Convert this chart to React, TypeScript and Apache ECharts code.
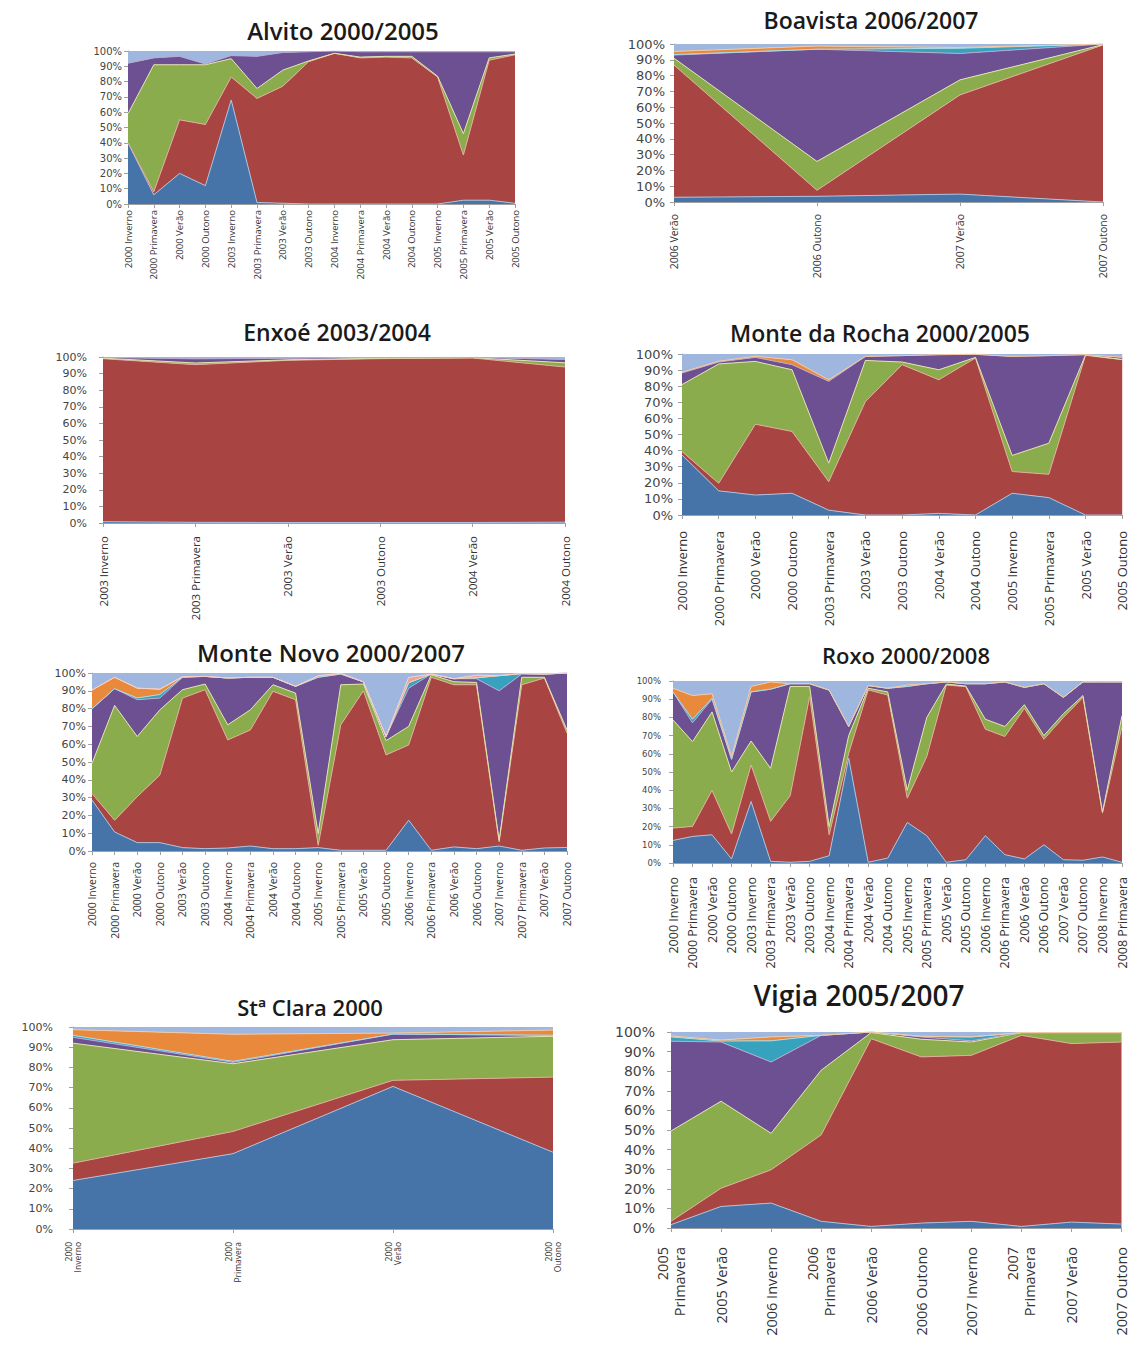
import React, { useEffect, useRef } from "react";
import * as echarts from "echarts";

// ---------------- DATA ----------------
// Alvito 2000/2005
const alvitoCats = ["2000 Inverno", "2000 Primavera", "2000 Verão", "2000 Outono", "2003 Inverno", "2003 Primavera", "2003 Verão", "2003 Outono", "2004 Inverno", "2004 Primavera", "2004 Verão", "2004 Outono", "2005 Inverno", "2005 Primavera", "2005 Verão", "2005 Outono"];
const alvitoBlue = [40, 6, 20, 12, 68, 1, 0.5, 0, 0, 0, 0, 0, 0, 2.5, 2.5, 0.5];
const alvitoRed = [0, 2, 35, 40, 15, 68, 76.5, 93, 98.5, 95.5, 96, 95.5, 83, 29.5, 91.5, 97];
const alvitoGreen = [19, 83, 36, 39, 12, 6.5, 10.5, 0.5, 0, 0.5, 0.5, 1, 0.5, 14, 1.5, 0.5];
const alvitoPurple = [33, 4.5, 5.5, 0.5, 2, 21, 11.5, 6, 1.5, 3.5, 3, 3, 16, 53.5, 4, 1.5];
const alvitoLightBlue = [8, 4.5, 3.5, 8.5, 3, 3.5, 1, 0.5, 0, 0.5, 0.5, 0.5, 0.5, 0.5, 0.5, 0.5];

// Boavista 2006/2007
const boaCats = ["2006 Verão", "2006 Outono", "2007 Verão", "2007 Outono"];
const boaBlue = [3, 3.6, 5, 0];
const boaRed = [83.7, 3.8, 62.8, 99.4];
const boaGreen = [4.3, 18.3, 9.5, 0.2];
const boaPurple = [2, 71, 16.7, 0.4];
const boaTeal = [0.3, 0, 3.3, 0];
const boaOrange = [2, 2, 0.5, 0];
const boaLightBlue = [4.7, 1.3, 2.2, 0];

// Enxoé 2003/2004
const enxCats = ["2003 Inverno", "2003 Primavera", "2003 Verão", "2003 Outono", "2004 Verão", "2004 Outono"];
const enxBlue = [0.8, 0.4, 0.3, 0.3, 0.3, 0.5];
const enxRed = [98.2, 95, 97.7, 98.7, 99.1, 93.5];
const enxGreen = [0.3, 1, 0.3, 0.3, 0.2, 2.5];
const enxPurple = [0.4, 2.5, 1, 0.4, 0.2, 2];
const enxLightBlue = [0.3, 1.1, 0.7, 0.3, 0.2, 1.5];

// Monte da Rocha 2000/2005
const mdrCats = ["2000 Inverno", "2000 Primavera", "2000 Verão", "2000 Outono", "2003 Primavera", "2003 Verão", "2003 Outono", "2004 Verão", "2004 Outono", "2005 Inverno", "2005 Primavera", "2005 Verão", "2005 Outono"];
const mdrBlue = [37.3, 15, 12.4, 13.5, 3, 0, 0, 1, 0, 13.5, 10.8, 0, 0];
const mdrRed = [2.1, 4.7, 44, 38.4, 17.7, 70.5, 93.4, 83, 97.5, 13.5, 14.5, 99.2, 96.5];
const mdrGreen = [41.6, 74.1, 39, 38.3, 11.5, 25.5, 1.6, 6.2, 0.4, 10, 19.3, 0.2, 0.1];
const mdrPurple = [7.2, 1.2, 2.5, 3.2, 50.8, 2.5, 4, 9.4, 1.9, 61.5, 54.4, 0.2, 1.4];
const mdrOrange = [0.5, 0.5, 0.7, 3, 1, 0, 0, 0, 0, 0, 0, 0, 0];
const mdrLightBlue = [11.3, 4.5, 1.4, 3.6, 16, 1.5, 1, 0.4, 0.2, 1.5, 1, 0.4, 2];

// Monte Novo 2000/2007
const mnCats = ["2000 Inverno", "2000 Primavera", "2000 Verão", "2000 Outono", "2003 Verão", "2003 Outono", "2004 Inverno", "2004 Primavera", "2004 Verão", "2004 Outono", "2005 Inverno", "2005 Primavera", "2005 Verão", "2005 Outono", "2006 Inverno", "2006 Primavera", "2006 Verão", "2006 Outono", "2007 Inverno", "2007 Primavera", "2007 Verão", "2007 Outono"];
const mnBlue = [28.6, 10.7, 4.7, 4.7, 1.9, 1.3, 1.7, 2.8, 1.3, 1.3, 1.9, 0.4, 0.4, 0.4, 17.3, 0.4, 2.3, 1.3, 2.8, 0.4, 1.7, 2];
const mnRed = [3.7, 6.6, 25.8, 38, 84, 89.3, 60.7, 65.2, 88.4, 83.7, 1.3, 70.5, 89.6, 53.6, 42.3, 97.2, 91.1, 92.1, 2.3, 93, 95.5, 64.2];
const mnGreen = [16.9, 64.5, 33.8, 36.6, 4.7, 3.2, 8.5, 11.3, 3.7, 3.7, 6.6, 22.5, 3.8, 8, 10.4, 1.4, 1.7, 1.3, 0.9, 4.2, 0.4, 1.8];
const mnPurple = [30.7, 9.4, 20.7, 6.6, 7, 4.3, 26.3, 18.3, 4.2, 3.8, 87.8, 6, 1.2, 2.3, 21.5, 0.4, 1.7, 2.1, 84, 1.8, 1.8, 32];
const mnTeal = [0, 0, 1, 2, 0, 0, 0, 0, 0, 0, 0, 0, 0, 0, 3, 0, 0, 0.5, 8.5, 0.3, 0, 0];
const mnOrange = [10.5, 6.4, 5.5, 3, 0.3, 0, 0, 0, 0, 0, 0.8, 0.4, 0, 0, 0, 0, 0, 0, 0, 0, 0, 0];
const mnPink = [0, 0, 0, 0, 0, 0, 0, 0, 0, 0, 0, 0, 0, 0, 3, 0, 0, 1.5, 0, 0, 0, 0];
const mnLightBlue = [9.6, 2.4, 8.5, 9.1, 2.1, 1.9, 2.8, 2.4, 2.4, 7.5, 1.6, 0.2, 5, 35.7, 2.5, 0.6, 3.2, 1.2, 1.5, 0.3, 0.6, 0];

// Roxo 2000/2008
const roxoCats = ["2000 Inverno", "2000 Primavera", "2000 Verão", "2000 Outono", "2003 Inverno", "2003 Primavera", "2003 Verão", "2003 Outono", "2004 Inverno", "2004 Primavera", "2004 Verão", "2004 Outono", "2005 Inverno", "2005 Primavera", "2005 Verão", "2005 Outono", "2006 Inverno", "2006 Primavera", "2006 Verão", "2006 Outono", "2007 Verão", "2007 Outono", "2008 Inverno", "2008 Primavera"];
const roxoBlue = [12.4, 14.6, 15.5, 2.2, 33.8, 0.9, 0.4, 0.9, 4, 57.6, 0.4, 2.7, 22.3, 15, 0.4, 1.8, 15, 4.6, 2.2, 10, 1.8, 1.5, 3.3, 0.4];
const roxoRed = [6.8, 5.5, 24.4, 13.7, 20.1, 22, 36.5, 90.5, 11.5, 2.7, 94.7, 89.6, 13.3, 43.5, 97.4, 95.1, 58.5, 64.9, 82.8, 58, 78.2, 89.5, 24.1, 74.6];
const roxoGreen = [59.4, 46.6, 43.1, 34.1, 13.1, 29.1, 60.1, 5.6, 4.5, 9.7, 0.9, 1.7, 4.4, 21.5, 0.5, 0.3, 5.5, 5.5, 2, 2, 2, 1, 0.6, 6];
const roxoPurple = [15.4, 10.3, 7, 7, 27, 43.5, 1.5, 1.5, 75, 5, 1.5, 2, 57, 18.5, 1.2, 1.3, 19.5, 24.5, 9.5, 28.5, 9, 7.5, 71.5, 18.5];
const roxoTeal = [0, 2, 0.5, 0, 0, 0, 0, 0, 0, 0, 0, 0, 0, 0, 0, 0, 0, 0, 0, 0, 0, 0, 0, 0];
const roxoOrange = [2, 13, 2.5, 1.5, 3, 4, 0, 0, 0, 0, 0, 0, 0.8, 0, 0, 0, 0, 0, 0, 0, 0, 0, 0, 0];
const roxoLightBlue = [4, 8, 7, 41.5, 3, 0.5, 1.5, 1.5, 5, 25, 2.5, 4, 2.2, 1.5, 0.5, 1.5, 1.5, 0.5, 3.5, 1.5, 9, 0.5, 0.5, 0.5];

// Stª Clara 2000
const scCats = ["2000\nInverno", "2000\nPrimavera", "2000\nVerão", "2000\nOutono"];
const scBlue = [24, 37.3, 70.6, 38];
const scRed = [8.6, 11, 3, 37.2];
const scGreen = [59.4, 33.5, 20.1, 20.2];
const scPurple = [2.9, 0.7, 2.8, 0.5];
const scTeal = [1, 0.5, 0, 0];
const scOrange = [2.8, 13.4, 0.5, 2.6];
const scLightBlue = [1.3, 3.6, 3, 1.5];

// Vigia 2005/2007
const vigCats = ["2005\nPrimavera", "2005 Verão", "2006 Inverno", "2006\nPrimavera", "2006 Verão", "2006 Outono", "2007 Inverno", "2007\nPrimavera", "2007 Verão", "2007 Outono"];
const vigBlue = [1.7, 11, 12.7, 3.4, 0.8, 2.5, 3.4, 0.8, 3, 2];
const vigRed = [1.7, 9.3, 17, 44.1, 95.8, 84.8, 84.7, 97.5, 91.1, 92.9];
const vigGreen = [46.1, 44.4, 18.6, 33, 3.1, 9, 6.8, 1.4, 5.6, 4.8];
const vigPurple = [45.8, 30.2, 36.4, 17.8, 0.3, 1.2, 0.6, 0, 0, 0];
const vigTeal = [2.2, 0.5, 10.8, 0, 0, 0.3, 2, 0, 0, 0];
const vigOrange = [0.5, 0.5, 2, 0, 0, 0, 0, 0, 0, 0];
const vigLightBlue = [2, 4.1, 2.5, 1.7, 0, 2.2, 2.5, 0.3, 0.3, 0.3];

// ---------------- STYLE ----------------
const FILL: Record<string, string> = {
  blue: "#4673a8",
  red: "#a84542",
  green: "#8aac4c",
  purple: "#6d5091",
  teal: "#36a2bd",
  orange: "#e8893b",
  pink: "#e9a3a0",
  lightblue: "#9fb7de",
};
const EDGE: Record<string, string> = {
  blue: "#a9c1de",
  red: "#e3aa9c",
  green: "#e0e4aa",
  purple: "#b7a9cf",
  teal: "#a8dbe8",
  orange: "#f6c9a0",
  pink: "#f5d0cd",
  lightblue: "rgba(0,0,0,0)",
};
const ORDER = ["blue", "red", "green", "purple", "teal", "orange", "pink", "lightblue"];

type Panel = {
  title: string;
  cats: string[];
  data: Record<string, number[]>;
  box: { l: number; t: number; w: number; h: number };
  titlePos: [number, number];
  titleSize: number;
  ySize: number;
  yMargin: number;
  xSize: number;
  xMargin: number;
  xLineHeight?: number;
};

const panels: Panel[] = [
  {
    title: "Alvito 2000/2005", cats: alvitoCats,
    data: { blue: alvitoBlue, red: alvitoRed, green: alvitoGreen, purple: alvitoPurple, lightblue: alvitoLightBlue },
    box: { l: 128, t: 51, w: 387, h: 153 }, titlePos: [343, 30], titleSize: 24,
    ySize: 10, yMargin: 6, xSize: 9.5, xMargin: 6,
  },
  {
    title: "Boavista 2006/2007", cats: boaCats,
    data: { blue: boaBlue, red: boaRed, green: boaGreen, purple: boaPurple, teal: boaTeal, orange: boaOrange, lightblue: boaLightBlue },
    box: { l: 674, t: 44, w: 429, h: 158 }, titlePos: [871, 20], titleSize: 23,
    ySize: 13, yMargin: 9, xSize: 10.5, xMargin: 12,
  },
  {
    title: "Enxoé 2003/2004", cats: enxCats,
    data: { blue: enxBlue, red: enxRed, green: enxGreen, purple: enxPurple, lightblue: enxLightBlue },
    box: { l: 103, t: 357, w: 462, h: 166 }, titlePos: [337, 332], titleSize: 23,
    ySize: 11, yMargin: 16, xSize: 11.5, xMargin: 13,
  },
  {
    title: "Monte da Rocha 2000/2005", cats: mdrCats,
    data: { blue: mdrBlue, red: mdrRed, green: mdrGreen, purple: mdrPurple, orange: mdrOrange, lightblue: mdrLightBlue },
    box: { l: 682, t: 354, w: 441, h: 161 }, titlePos: [880, 333], titleSize: 23,
    ySize: 13, yMargin: 9, xSize: 13, xMargin: 16,
  },
  {
    title: "Monte Novo 2000/2007", cats: mnCats,
    data: { blue: mnBlue, red: mnRed, green: mnGreen, purple: mnPurple, teal: mnTeal, orange: mnOrange, pink: mnPink, lightblue: mnLightBlue },
    box: { l: 92, t: 673, w: 475, h: 178 }, titlePos: [331, 652], titleSize: 24,
    ySize: 11, yMargin: 6, xSize: 10.5, xMargin: 11,
  },
  {
    title: "Roxo 2000/2008", cats: roxoCats,
    data: { blue: roxoBlue, red: roxoRed, green: roxoGreen, purple: roxoPurple, teal: roxoTeal, orange: roxoOrange, lightblue: roxoLightBlue },
    box: { l: 673, t: 681, w: 449, h: 182 }, titlePos: [906, 655], titleSize: 22,
    ySize: 8.5, yMargin: 12, xSize: 12.5, xMargin: 14,
  },
  {
    title: "Stª Clara 2000", cats: scCats,
    data: { blue: scBlue, red: scRed, green: scGreen, purple: scPurple, teal: scTeal, orange: scOrange, lightblue: scLightBlue },
    box: { l: 73, t: 1027, w: 480, h: 202 }, titlePos: [310, 1007], titleSize: 22,
    ySize: 11, yMargin: 20, xSize: 8.5, xMargin: 13, xLineHeight: 9,
  },
  {
    title: "Vigia 2005/2007", cats: vigCats,
    data: { blue: vigBlue, red: vigRed, green: vigGreen, purple: vigPurple, teal: vigTeal, orange: vigOrange, lightblue: vigLightBlue },
    box: { l: 671, t: 1032, w: 453, h: 196 }, titlePos: [859, 995], titleSize: 28,
    ySize: 14, yMargin: 16, xSize: 14.5, xMargin: 19, xLineHeight: 17,
  },
];

function buildOption() {
  const grid: any[] = [];
  const xAxis: any[] = [];
  const yAxis: any[] = [];
  const series: any[] = [];
  const graphic: any[] = [];
  const axisColor = "#a0a0a0";

  panels.forEach((p, i) => {
    grid.push({ left: p.box.l, top: p.box.t, width: p.box.w, height: p.box.h, containLabel: false });
    xAxis.push({
      type: "category",
      gridIndex: i,
      data: p.cats,
      boundaryGap: false,
      axisLine: { show: true, lineStyle: { color: axisColor, width: 1 } },
      axisTick: { show: true, length: 4, interval: 0, lineStyle: { color: axisColor } },
      axisLabel: {
        rotate: 90,
        interval: 0,
        fontSize: p.xSize,
        fontFamily: "Open Sans",
        color: "#333",
        margin: p.xMargin,
        lineHeight: p.xLineHeight || p.xSize * 1.2,
      },
      splitLine: { show: false },
    });
    yAxis.push({
      type: "value",
      gridIndex: i,
      min: 0,
      max: 100,
      interval: 10,
      axisLine: { show: true, lineStyle: { color: axisColor, width: 1 } },
      axisTick: { show: true, length: 4, lineStyle: { color: axisColor } },
      axisLabel: {
        formatter: "{value}%",
        fontSize: p.ySize,
        fontFamily: "DejaVu Sans",
        color: "#444",
        margin: p.yMargin,
      },
      splitLine: { show: false },
    });
    ORDER.forEach((key) => {
      const arr = p.data[key];
      if (!arr) return;
      series.push({
        name: key,
        type: "line",
        xAxisIndex: i,
        yAxisIndex: i,
        stack: "panel" + i,
        data: arr,
        symbol: "none",
        showSymbol: false,
        smooth: false,
        lineStyle: { width: key === "lightblue" ? 0 : 1, color: EDGE[key] },
        areaStyle: { color: FILL[key], opacity: 1 },
        itemStyle: { color: FILL[key] },
        emphasis: { disabled: true },
      });
    });
    graphic.push({
      type: "text",
      x: p.titlePos[0],
      y: p.titlePos[1],
      style: {
        text: p.title,
        fontSize: p.titleSize,
        fontFamily: "Open Sans",
        fontWeight: 600,
        fill: "#1a1a1a",
        align: "center",
        verticalAlign: "middle",
      },
    });
  });

  return {
    animation: false,
    backgroundColor: "#ffffff",
    grid,
    xAxis,
    yAxis,
    series,
    graphic,
  };
}

export default function App() {
  const ref = useRef<HTMLDivElement>(null);
  useEffect(() => {
    if (!ref.current) return;
    const chart = echarts.init(ref.current, undefined, { renderer: "svg", width: 1130, height: 1362 });
    chart.setOption(buildOption() as any);
    return () => chart.dispose();
  }, []);
  return (
    <div
      ref={ref}
      style={{ position: "absolute", left: 0, top: 0, width: 1130, height: 1362, background: "#fff" }}
    />
  );
}
